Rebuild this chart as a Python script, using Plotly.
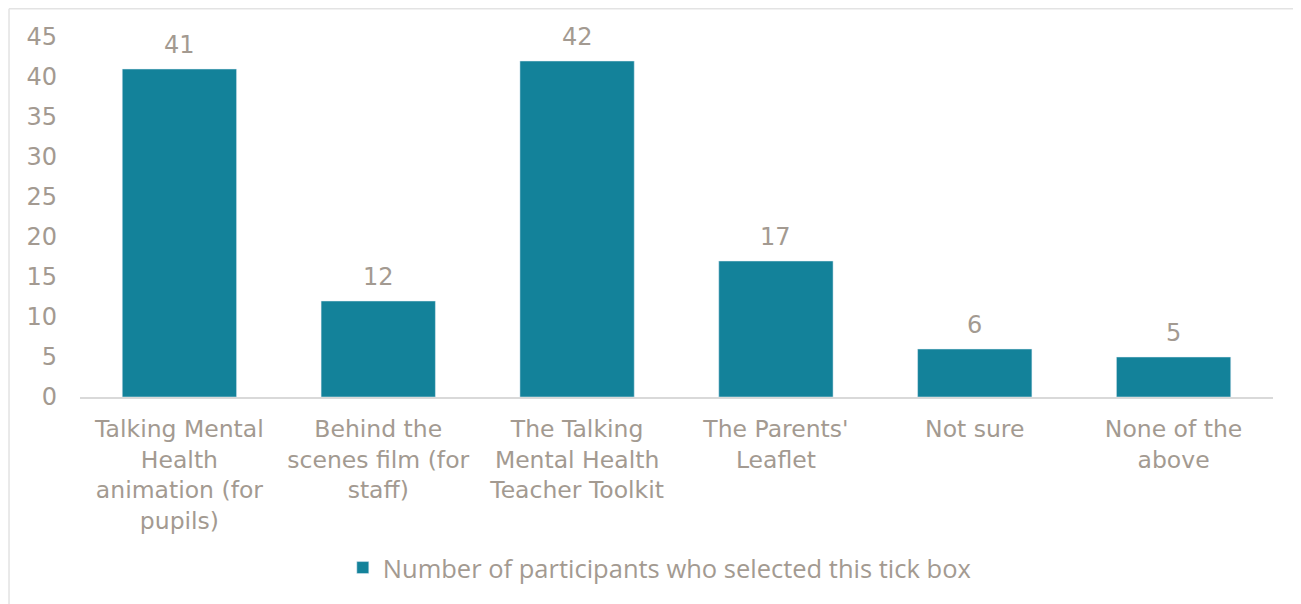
import plotly.graph_objects as go

# data
categories = [
    "Talking Mental<br>Health<br>animation (for<br>pupils)",
    "Behind the<br>scenes film (for<br>staff)",
    "The Talking<br>Mental Health<br>Teacher Toolkit",
    "The Parents'<br>Leaflet",
    "Not sure",
    "None of the<br>above",
]
counts = [41, 12, 42, 17, 6, 5]
series_name = "Number of participants who selected this tick box"
y_ticks = [0, 5, 10, 15, 20, 25, 30, 35, 40, 45]

bar_color = "#13829A"
text_color = "#A39A91"
border_color = "#E3E3E3"

fig = go.Figure()
fig.add_trace(go.Bar(
    x=categories,
    y=counts,
    name=series_name,
    marker=dict(color=bar_color),
))

# value labels above the bars
for cat, val in zip(categories, counts):
    fig.add_annotation(x=cat, y=val, text=str(val), showarrow=False,
                       yanchor="bottom", yshift=8,
                       font=dict(family="DejaVu Sans", size=24, color=text_color))

# outer chart border: only the top and left edges are inside the frame
fig.add_shape(type="line", xref="paper", yref="paper",
              x0=-0.0595, x1=1.1, y0=1.0785, y1=1.0785,
              line=dict(color=border_color, width=1.5), layer="below")
fig.add_shape(type="line", xref="paper", yref="paper",
              x0=-0.0595, x1=-0.0595, y0=-1.0, y1=1.0785,
              line=dict(color=border_color, width=1.5), layer="below")

fig.update_layout(
    width=1293, height=596,
    margin=dict(l=72, r=28, t=29, b=205),
    plot_bgcolor="white", paper_bgcolor="white",
    bargap=0.425,
    font=dict(family="DejaVu Sans", size=24, color=text_color),
    showlegend=True,
    legend=dict(orientation="h", x=0.486, xanchor="center", y=-0.475, yanchor="middle",
                font=dict(family="Open Sans", size=25.5, color=text_color)),
    xaxis=dict(showline=True, linecolor="#D9D9D9", linewidth=1.5, ticks="",
               ticklabelstandoff=10,
               tickfont=dict(family="DejaVu Sans", size=23.5, color=text_color)),
    yaxis=dict(range=[0, 45], tickvals=y_ticks, showgrid=False, zeroline=False,
               showline=False, ticks="", ticklabelstandoff=22,
               tickfont=dict(family="DejaVu Sans", size=24, color=text_color)),
)

fig.write_html("out.html")
